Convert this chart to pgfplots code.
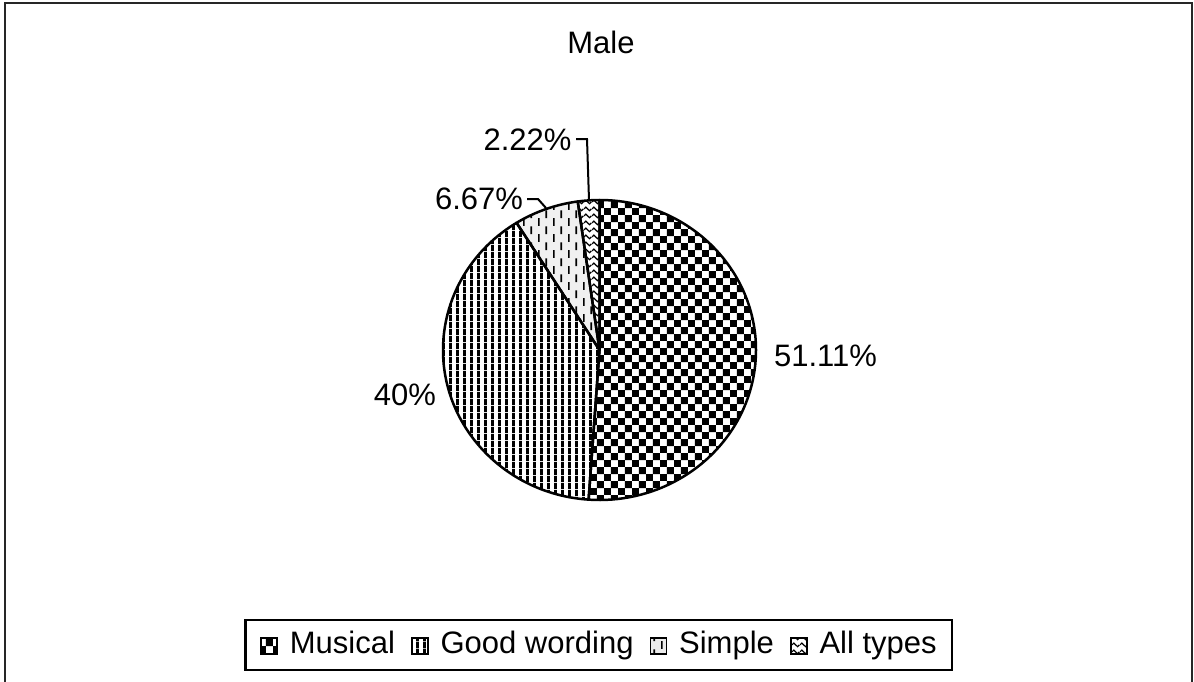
\documentclass[border=0pt]{standalone}
\usepackage{fontspec}
\setmainfont{Liberation Sans}
\usepackage{pgfplots}
\pgfplotsset{compat=1.18}
\usepackage{pgfplotstable}
\usetikzlibrary{patterns.meta}

% fill patterns of the four slices
\tikzdeclarepattern{
  name=checker, type=uncolored,
  bounding box={(0pt,0pt) and (7.2pt,7.2pt)},
  tile size={(7.2pt,7.2pt)},
  code={\fill (0pt,0pt) rectangle (3.6pt,3.6pt); \fill (3.6pt,3.6pt) rectangle (7.2pt,7.2pt);}
}
\tikzdeclarepattern{
  name=vstripes, type=uncolored,
  bounding box={(0pt,0pt) and (3.3pt,3.3pt)},
  tile size={(3.3pt,3.3pt)},
  code={\fill (0pt,0pt) rectangle (1.55pt,3.3pt);}
}
\tikzdeclarepattern{
  name=vdashes, type=uncolored,
  bounding box={(0pt,0pt) and (7.7pt,8.2pt)},
  tile size={(7.7pt,8.2pt)},
  code={\fill (0pt,0pt) rectangle (0.9pt,4pt); \fill (3.85pt,4.1pt) rectangle (4.75pt,8.1pt);}
}
\tikzdeclarepattern{
  name=waves, type=uncolored,
  bounding box={(0pt,0pt) and (4pt,3.3pt)},
  tile size={(4pt,3.3pt)},
  code={\draw[line width=0.65pt] (0pt,1.65pt) sin (1pt,2.6pt) cos (2pt,1.65pt) sin (3pt,0.7pt) cos (4pt,1.65pt);}
}

\newcommand\lbl{\fontsize{15.5}{18}\selectfont}

\begin{document}
\pgfplotstableread{
name value
Musical 51.11
Wording 40
Simple 6.67
All 2.22
}\pietable
\begin{tikzpicture}
\pgfplotstablegetelem{0}{value}\of\pietable \let\vA\pgfplotsretval
\pgfplotstablegetelem{1}{value}\of\pietable \let\vB\pgfplotsretval
\pgfplotstablegetelem{2}{value}\of\pietable \let\vC\pgfplotsretval
\pgfplotstablegetelem{3}{value}\of\pietable \let\vD\pgfplotsretval
% slice borders, clockwise from the top
\pgfmathsetmacro\aA{90}
\pgfmathsetmacro\aB{\aA-3.6*\vA}
\pgfmathsetmacro\aC{\aB-3.6*\vB}
\pgfmathsetmacro\aD{\aC-3.6*\vC}
\pgfmathsetmacro\aE{\aD-3.6*\vD}
% centre and radii in pixels
\def\cx{599.5}\def\cy{350}\def\rx{156.5}\def\ry{150}
\pgfmathsetmacro\rxpt{\rx*0.5}
\pgfmathsetmacro\rypt{\ry*0.5}
\newcommand\slice[3]{%
  \path[#3] (axis cs:\cx,\cy) -- (axis cs:{\cx+\rx*cos(#1)},{\cy-\ry*sin(#1)})
    arc[start angle=#1, end angle=#2, x radius=\rxpt pt, y radius=\rypt pt] -- cycle;}
\begin{axis}[
    x=0.5pt, y=0.5pt,
    xmin=0, xmax=1194, ymin=0, ymax=681,
    y dir=reverse,
    hide axis, clip=false,
    legend columns=4,
    legend image code/.code={\filldraw[#1, draw=black, line width=0.8pt] (0pt,-4.5pt) rectangle (8pt,3.5pt);},
    legend style={at={(axis cs:598.5,645)}, anchor=center, draw=black, line width=1.2pt,
        font=\lbl, inner xsep=7.5pt, inner ysep=5pt,
        nodes={inner sep=0pt, text height=11.5pt, text depth=3.3pt},
        /tikz/every odd column/.append style={column sep=6pt},
        /tikz/every even column/.append style={column sep=8pt}},
]
\addlegendimage{pattern=checker, pattern color=black}
\addlegendentry{Musical}
\addlegendimage{pattern=vstripes, pattern color=black}
\addlegendentry{Good wording}
\addlegendimage{fill=black!8, postaction={pattern=vdashes, pattern color=black}}
\addlegendentry{Simple}
\addlegendimage{pattern=waves, pattern color=black}
\addlegendentry{All types}

\slice{\aA}{\aB}{pattern=checker, pattern color=black}
\slice{\aB}{\aC}{pattern=vstripes, pattern color=black}
\slice{\aC}{\aD}{fill=black!6}
\slice{\aC}{\aD}{pattern=vdashes, pattern color=black}
\slice{\aD}{\aE}{pattern=waves, pattern color=black}
\slice{\aA}{\aB}{draw=black, line width=1.25pt, line join=round}
\slice{\aB}{\aC}{draw=black, line width=1.25pt, line join=round}
\slice{\aC}{\aD}{draw=black, line width=1.25pt, line join=round}
\slice{\aD}{\aE}{draw=black, line width=1.25pt, line join=round}

% leader lines of the two small slices
\addplot[black, line width=1pt, forget plot] coordinates {(527,199) (538,199) (546,208)};
\addplot[black, line width=1pt, forget plot] coordinates {(576,139) (587,139) (589,200)};

\node[font=\lbl, anchor=base] at (axis cs:601,53) {Male};
\node[font=\lbl, anchor=base] at (axis cs:825.5,366) {\vA\%};
\node[font=\lbl, anchor=base] at (axis cs:405,405) {\vB\%};
\node[font=\lbl, anchor=base] at (axis cs:479,209) {\vC\%};
\node[font=\lbl, anchor=base] at (axis cs:527.5,150) {\vD\%};

\draw[black!85, line width=1.2pt] (axis cs:5,3) rectangle (axis cs:1192,720);
\coordinate (bl) at (axis cs:0,681);
\coordinate (tr) at (axis cs:1194,0);
\end{axis}
\pgfresetboundingbox
\path[use as bounding box] (bl) rectangle (tr);
\end{tikzpicture}
\end{document}
